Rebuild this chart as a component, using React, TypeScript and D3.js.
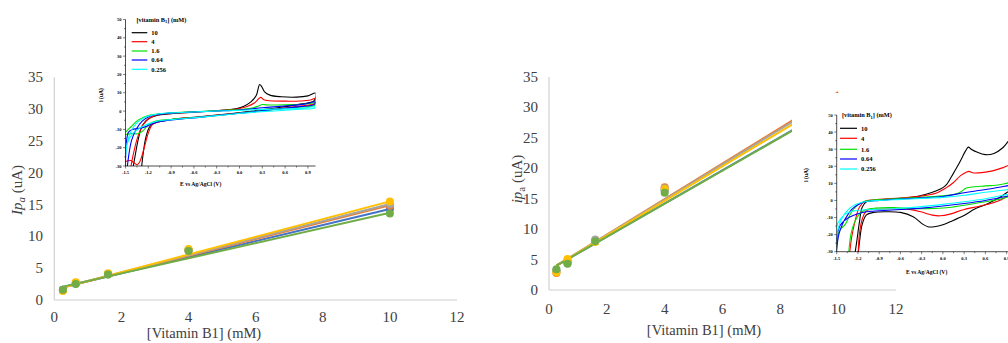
import React from "react";
import * as d3 from "d3";

const W = 1008;
const H = 343;

// ---------- main scatter charts ----------
const concentrations = [0.256, 0.64, 1.6, 4, 10];
const seriesColors = ["#4472C4", "#ED7D31", "#A5A5A5", "#FFC000", "#70AD47"];
const mainXTicks = [0, 2, 4, 6, 8, 10, 12];
const mainYTicks = [0, 5, 10, 15, 20, 25, 30, 35];

// left chart (anodic peak current)
const leftBlue = [1.6, 2.6, 4.1, 7.8, 14.3];
const leftOrange = [1.5, 2.7, 4.1, 7.9, 14.8];
const leftGray = [1.6, 2.6, 4.0, 7.8, 15.1];
const leftYellow = [1.4, 2.8, 4.2, 8.0, 15.5];
const leftGreen = [1.6, 2.5, 4.0, 7.7, 13.6];
const leftTrendStart = [2.0, 1.95, 2.0, 1.95, 2.1];
const leftTrendEnd = [14.3, 14.9, 15.1, 15.5, 13.7];

// right chart
const rightBlue = [3.2, 4.4, 8.1, 16.4, 30.6];
const rightOrange = [2.8, 4.9, 8.0, 16.9, 31.7];
const rightGray = [3.1, 4.7, 8.3, 16.7, 30.9];
const rightYellow = [2.9, 5.1, 7.9, 16.6, 30.8];
const rightGreen = [3.4, 4.3, 8.0, 16.0, 30.4];
const rightTrendStart = [4.0, 4.0, 4.0, 4.0, 4.0];
const rightTrendEnd = [30.6, 32.5, 32.2, 31.7, 30.5];

// ---------- CV insets ----------
const cvLegend = ["10", "4", "1.6", "0.64", "0.256"];
const cvColors = ["#000000", "#ff0000", "#00e000", "#0000ff", "#00ffff"];
const cvXTicks = [-1.5, -1.2, -0.9, -0.6, -0.3, 0.0, 0.3, 0.6, 0.9];
const cvYTicks = [-30, -20, -10, 0, 10, 20, 30, 40, 50];

type P = [number, number];

const cvLeft10: P[] = [[-1.42,-36],[-1.38,-26],[-1.33,-15],[-1.28,-8],[-1.2,-4.2],[-1.1,-2.5],[-0.9,-1.4],[-0.6,-0.6],[-0.3,0.2],[-0.05,1.2],[0.05,2.5],[0.15,5],[0.22,8.5],[0.265,14.5],[0.29,13.5],[0.33,10.5],[0.4,8.7],[0.55,7.8],[0.75,7.6],[0.9,8.3],[1.0,9.8],
  [0.98,5.5],[0.8,3.8],[0.5,1.8],[0.2,0.2],[-0.1,-1.3],[-0.5,-3],[-0.9,-4.6],[-1.1,-6.3],[-1.18,-8.5],[-1.23,-14],[-1.27,-24],[-1.3,-36]];
const cvLeft4: P[] = [[-1.45,-36],[-1.4,-24],[-1.33,-13],[-1.26,-7],[-1.18,-3.8],[-1.1,-2.3],[-0.9,-1.3],[-0.6,-0.5],[-0.3,0.2],[-0.05,1],[0.1,2.5],[0.2,4.5],[0.26,7],[0.28,7.5],[0.32,6.2],[0.4,5.6],[0.6,5.4],[0.8,5.5],[0.93,6],[1.0,7],
  [0.98,4],[0.8,2.8],[0.5,1.2],[0.2,-0.2],[-0.1,-1.5],[-0.5,-3.1],[-0.9,-4.7],[-1.1,-6.4],[-1.15,-7.5],[-1.2,-12],[-1.26,-21],[-1.31,-27.5],[-1.345,-29.3],[-1.38,-28.5],[-1.43,-27],[-1.5,-27.5]];
const cvLeft16: P[] = [[-1.5,-11.5],[-1.43,-8.7],[-1.34,-5.1],[-1.21,-2.6],[-1.1,-1.8],[-0.9,-1],[-0.6,-0.4],[-0.3,0.2],[0,0.8],[0.15,1.5],[0.25,2.8],[0.3,3.6],[0.35,3.4],[0.5,3.3],[0.7,3.5],[0.9,4],[1.0,4.5],
  [0.98,3],[0.8,2.2],[0.5,1],[0.2,-0.3],[-0.1,-1.6],[-0.5,-3.2],[-0.9,-4.6],[-1.1,-5.5],[-1.2,-7.5],[-1.27,-10.8],[-1.34,-12.4],[-1.42,-12.3],[-1.5,-12.8]];
const cvLeft064: P[] = [[-1.49,-36],[-1.46,-25],[-1.42,-16],[-1.36,-10],[-1.28,-5.5],[-1.2,-3.2],[-1.1,-2],[-0.9,-1.1],[-0.6,-0.5],[-0.3,0],[0,0.6],[0.3,1.8],[0.6,2.8],[0.85,3.8],[1.0,5],
  [0.98,3.5],[0.8,2.4],[0.5,1.1],[0.2,-0.3],[-0.1,-1.6],[-0.5,-3.3],[-0.9,-4.9],[-1.1,-6.2],[-1.2,-8],[-1.3,-9.3],[-1.4,-10],[-1.46,-11.5],[-1.49,-18],[-1.5,-36]];
const cvLeft0256: P[] = [[-1.52,-36],[-1.5,-25],[-1.47,-16],[-1.42,-10.5],[-1.35,-6.5],[-1.25,-3.5],[-1.1,-1.8],[-0.9,-1],[-0.6,-0.5],[-0.3,0],[0,0.4],[0.3,0.9],[0.6,1.2],[0.85,1.7],[1.0,2.3],
  [0.98,1.5],[0.8,1],[0.5,0.2],[0.2,-0.6],[-0.1,-1.7],[-0.5,-3.3],[-0.9,-4.7],[-1.1,-5.7],[-1.2,-7],[-1.3,-9],[-1.4,-12],[-1.47,-17],[-1.5,-24],[-1.52,-36]];

const cvRight10: P[] = [[-1.26,-36],[-1.22,-25],[-1.18,-13],[-1.14,-4],[-1.08,-0.8],[-0.9,0.3],[-0.6,1.2],[-0.42,2],[-0.25,3.5],[-0.1,5.5],[0.0,7.5],[0.05,9.2],[0.15,16],[0.22,21],[0.27,25],[0.32,29],[0.36,31.2],[0.4,30],[0.48,28.3],[0.6,26.8],[0.72,27.5],[0.85,31],[0.95,36],[1.0,38],
  [1.0,8],[0.9,4.5],[0.75,0.5],[0.6,-2.5],[0.45,-5],[0.29,-9],[0.1,-12.5],[0.0,-14.2],[-0.12,-15.4],[-0.2,-15.5],[-0.28,-14],[-0.42,-9.5],[-0.6,-7],[-0.8,-6.6],[-0.98,-7],[-1.08,-8.5],[-1.14,-14],[-1.18,-25],[-1.21,-36]];
const cvRight4: P[] = [[-1.33,-36],[-1.29,-22],[-1.24,-12],[-1.18,-4],[-1.1,-0.5],[-0.9,0.6],[-0.6,1.4],[-0.3,2.6],[-0.1,4.2],[0.05,7.5],[0.15,10.5],[0.25,14.5],[0.33,16.5],[0.37,17],[0.42,16.2],[0.55,16.3],[0.7,17.3],[0.85,19.2],[1.0,21],
  [1.0,6],[0.85,1],[0.7,-1.5],[0.5,-3.5],[0.29,-5.4],[0.1,-8.0],[-0.04,-9],[-0.15,-8.6],[-0.3,-6.8],[-0.45,-5.4],[-0.7,-5],[-0.95,-5.2],[-1.08,-6],[-1.14,-11],[-1.18,-20],[-1.2,-36]];
const cvRight16: P[] = [[-1.5,-36],[-1.49,-22],[-1.45,-17],[-1.38,-14],[-1.32,-9],[-1.26,-5],[-1.2,-2.5],[-1.1,-0.5],[-0.9,0.5],[-0.6,1.2],[-0.3,1.8],[0,2.7],[0.15,3.5],[0.25,5],[0.33,7.3],[0.45,8],[0.6,8.5],[0.8,9.2],[0.9,10],[1.0,11],
  [1.0,4],[0.85,1.3],[0.6,-0.8],[0.3,-2.8],[0.05,-4.3],[-0.2,-4.8],[-0.45,-4.8],[-0.7,-4.2],[-0.95,-4.5],[-1.1,-5.6],[-1.18,-8],[-1.25,-13],[-1.3,-20],[-1.34,-36]];
const cvRight064: P[] = [[-1.52,-36],[-1.5,-28],[-1.47,-20],[-1.42,-14],[-1.36,-9.5],[-1.28,-5],[-1.2,-2.5],[-1.1,-0.8],[-0.9,0],[-0.6,0.8],[-0.3,1.5],[0,2.3],[0.3,4.5],[0.5,5.8],[0.7,7],[0.9,8.5],[1.0,9.3],
  [1.0,4],[0.85,2],[0.6,0],[0.3,-1.8],[0,-3.3],[-0.3,-4.5],[-0.6,-5.3],[-0.9,-6],[-1.1,-6.8],[-1.25,-8.5],[-1.35,-10.5],[-1.45,-14.5],[-1.5,-22],[-1.53,-36]];
const cvRight0256: P[] = [[-1.53,-30],[-1.5,-22],[-1.47,-15],[-1.42,-10],[-1.35,-6],[-1.28,-3.5],[-1.2,-1.8],[-1.05,-0.5],[-0.9,0],[-0.6,0.6],[-0.3,1.2],[0,1.8],[0.3,3],[0.6,4.8],[0.9,6.3],[1.0,7],
  [1.0,4.5],[0.85,3],[0.6,1],[0.3,-0.8],[0,-2.3],[-0.3,-3.6],[-0.6,-4.6],[-0.9,-5.2],[-1.1,-5.5],[-1.25,-6],[-1.38,-8],[-1.45,-11],[-1.5,-15],[-1.53,-25]];

const cvLeftCurves = [cvLeft10, cvLeft4, cvLeft16, cvLeft064, cvLeft0256];
const cvRightCurves = [cvRight10, cvRight4, cvRight16, cvRight064, cvRight0256];

const SERIF = "Liberation Serif, Times New Roman, serif";

type ScatterProps = {
  x0: number; x1: number; y0: number; y1: number;
  series: number[][]; trendStart: number[]; trendEnd: number[];
  yTickRight: number; xTickBase: number; xTitleX: number; xTitleBase: number;
  yTitleX: number; yTitleY: number; yTitle: React.ReactNode;
};

function Scatter(p: ScatterProps) {
  const x = d3.scaleLinear().domain([0, 12]).range([p.x0, p.x1]);
  const y = d3.scaleLinear().domain([0, 35]).range([p.y0, p.y1]);
  const line = d3.line<[number, number]>().x((d) => x(d[0])).y((d) => y(d[1]));
  return (
    <g style={{ fontFamily: SERIF }}>
      <line x1={p.x0} x2={p.x0} y1={p.y1} y2={p.y0} stroke="#d0d0d0" strokeWidth={1.2} />
      <line x1={p.x0} x2={p.x1} y1={p.y0} y2={p.y0} stroke="#d0d0d0" strokeWidth={1.2} />
      {mainYTicks.map((t) => (
        <text key={"y" + t} x={p.yTickRight} y={y(t) + 5} textAnchor="end" fontSize={15} fill="#404040">{t}</text>
      ))}
      {mainXTicks.map((t) => (
        <text key={"x" + t} x={x(t)} y={p.xTickBase} textAnchor="middle" fontSize={15} fill="#404040">{t}</text>
      ))}
      <text x={p.xTitleX} y={p.xTitleBase} textAnchor="middle" fontSize={14.5} fill="#404040">[Vitamin B1] (mM)</text>
      <text transform={`translate(${p.yTitleX},${p.yTitleY}) rotate(-90)`} textAnchor="middle" dy="0.35em" fontSize={15} fill="#404040">{p.yTitle}</text>
      {p.series.map((s, i) => (
        <path key={"t" + i}
          d={line([[concentrations[0], p.trendStart[i]], [concentrations[concentrations.length - 1], p.trendEnd[i]]]) || ""}
          stroke={seriesColors[i]} strokeWidth={2} fill="none" />
      ))}
      {p.series.map((s, i) => (
        <g key={"p" + i}>
          {s.map((v, j) => (
            <circle key={j} cx={x(concentrations[j])} cy={y(v)} r={4} fill={seriesColors[i]} />
          ))}
        </g>
      ))}
    </g>
  );
}

type InsetProps = {
  id: string; xLeft: number; pxPerV: number; yTop: number; yBot: number;
  curves: P[][]; legX: number; legY: number[]; legTitleY: number; legTitleX: number;
  legLineW: number; xTitleX: number; xTitleBase: number; yTitleX: number; yTitleY: number;
  bg: [number, number, number, number];
};

function Inset(p: InsetProps) {
  const x = d3.scaleLinear().domain([-1.5, 1.0]).range([p.xLeft, p.xLeft + 2.5 * p.pxPerV]);
  const y = d3.scaleLinear().domain([-30, 50]).range([p.yBot, p.yTop]);
  const line = d3.line<P>().x((d) => x(d[0])).y((d) => y(d[1])).curve(d3.curveCatmullRom.alpha(0.5));
  const [bx, by, bw, bh] = p.bg;
  const minorX = d3.range(-1.5, 1.01, 0.15);
  const minorY = d3.range(-30, 50.1, 5);
  return (
    <g style={{ fontFamily: SERIF, fontWeight: "bold" }}>
      <rect x={bx} y={by} width={bw} height={bh} fill="#ffffff" />
      <defs>
        <clipPath id={p.id}>
          <rect x={x(-1.5)} y={y(50)} width={x(1.0) - x(-1.5)} height={y(-30) - y(50)} />
        </clipPath>
      </defs>
      <g clipPath={`url(#${p.id})`}>
        {p.curves.map((c, i) => (
          <path key={i} d={line(c) || ""} stroke={cvColors[i]} strokeWidth={1.1} fill="none" />
        ))}
      </g>
      <line x1={x(-1.5)} x2={x(-1.5)} y1={y(50)} y2={y(-30)} stroke="#000" strokeWidth={0.7} />
      <line x1={x(-1.5)} x2={x(1.0)} y1={y(-30)} y2={y(-30)} stroke="#000" strokeWidth={0.7} />
      {minorY.map((t, i) => (
        <line key={"my" + i} x1={x(-1.5)} x2={x(-1.5) - (i % 2 === 0 ? 2.5 : 1.5)} y1={y(t)} y2={y(t)} stroke="#000" strokeWidth={0.5} />
      ))}
      {minorX.map((t, i) => (
        <line key={"mx" + i} x1={x(t)} x2={x(t)} y1={y(-30)} y2={y(-30) + (i % 2 === 0 ? 2.5 : 1.5)} stroke="#000" strokeWidth={0.5} />
      ))}
      {cvYTicks.map((t) => (
        <text key={"yt" + t} x={x(-1.5) - 4} y={y(t) + 1.5} textAnchor="end" fontSize={4.5} fill="#000">{t}</text>
      ))}
      {cvXTicks.map((t) => (
        <text key={"xt" + t} x={x(t)} y={y(-30) + 8} textAnchor="middle" fontSize={4.5} fill="#000">{t.toFixed(1)}</text>
      ))}
      <text x={p.xTitleX} y={p.xTitleBase} textAnchor="middle" fontSize={5.6} fill="#000">E vs Ag/AgCl (V)</text>
      <text transform={`translate(${p.yTitleX},${p.yTitleY}) rotate(-90)`} textAnchor="middle" dy="0.35em" fontSize={5.6} fill="#000">i (uA)</text>
      <text x={p.legTitleX} y={p.legTitleY} fontSize={6.3} fill="#000">
        [vitamin B<tspan fontSize={4.5} dy={1.5}>1</tspan><tspan dy={-1.5}>] (mM)</tspan>
      </text>
      {cvLegend.map((name, i) => (
        <g key={"lg" + i}>
          <line x1={p.legX} x2={p.legX + p.legLineW} y1={p.legY[i]} y2={p.legY[i]} stroke={cvColors[i]} strokeWidth={1.2} />
          <text x={p.legX + p.legLineW + 4} y={p.legY[i] + 2.2} fontSize={6.5} fill="#000">{name}</text>
        </g>
      ))}
    </g>
  );
}

export default function App() {
  const leftSeries = [leftBlue, leftOrange, leftGray, leftYellow, leftGreen];
  const rightSeries = [rightBlue, rightOrange, rightGray, rightYellow, rightGreen];
  return (
    <svg width={W} height={H} viewBox={`0 0 ${W} ${H}`}
      style={{ position: "absolute", left: 0, top: 0, background: "#fff" }}>
      <rect x={0} y={0} width={W} height={H} fill="#fff" />
      <Scatter x0={54.3} x1={457} y0={300} y1={77.3} series={leftSeries}
        trendStart={leftTrendStart} trendEnd={leftTrendEnd}
        yTickRight={43} xTickBase={322} xTitleX={204} xTitleBase={338}
        yTitleX={17} yTitleY={190}
        yTitle={<><tspan fontStyle="italic">Ip</tspan><tspan fontStyle="italic" fontSize={11} dy={3}>a</tspan><tspan dy={-3}> (uA)</tspan></>} />
      <Scatter x0={549} x1={896} y0={290} y1={77} series={rightSeries}
        trendStart={rightTrendStart} trendEnd={rightTrendEnd}
        yTickRight={538} xTickBase={314} xTitleX={704} xTitleBase={335}
        yTitleX={517} yTitleY={179}
        yTitle={<><tspan fontStyle="italic">ip</tspan><tspan fontSize={11} dy={3}>a</tspan><tspan dy={-3}> (uA)</tspan></>} />
      <Inset id="insL" xLeft={125.5} pxPerV={76} yTop={19.5} yBot={166} curves={cvLeftCurves}
        legX={131.7} legLineW={15.6} legY={[32.7, 41.7, 51, 60, 69.3]} legTitleX={136.5} legTitleY={21.5}
        xTitleX={200.7} xTitleBase={185.5} yTitleX={101} yTitleY={95}
        bg={[96, 8, 225, 182]} />
      <Inset id="insR" xLeft={836.7} pxPerV={70.8} yTop={115} yBot={251.7} curves={cvRightCurves}
        legX={840} legLineW={17} legY={[128.3, 138.3, 149.3, 159, 169]} legTitleX={842} legTitleY={117.3}
        xTitleX={926.7} xTitleBase={274} yTitleX={805.7} yTitleY={175}
        bg={[792, 93, 216, 189]} />
    </svg>
  );
}
